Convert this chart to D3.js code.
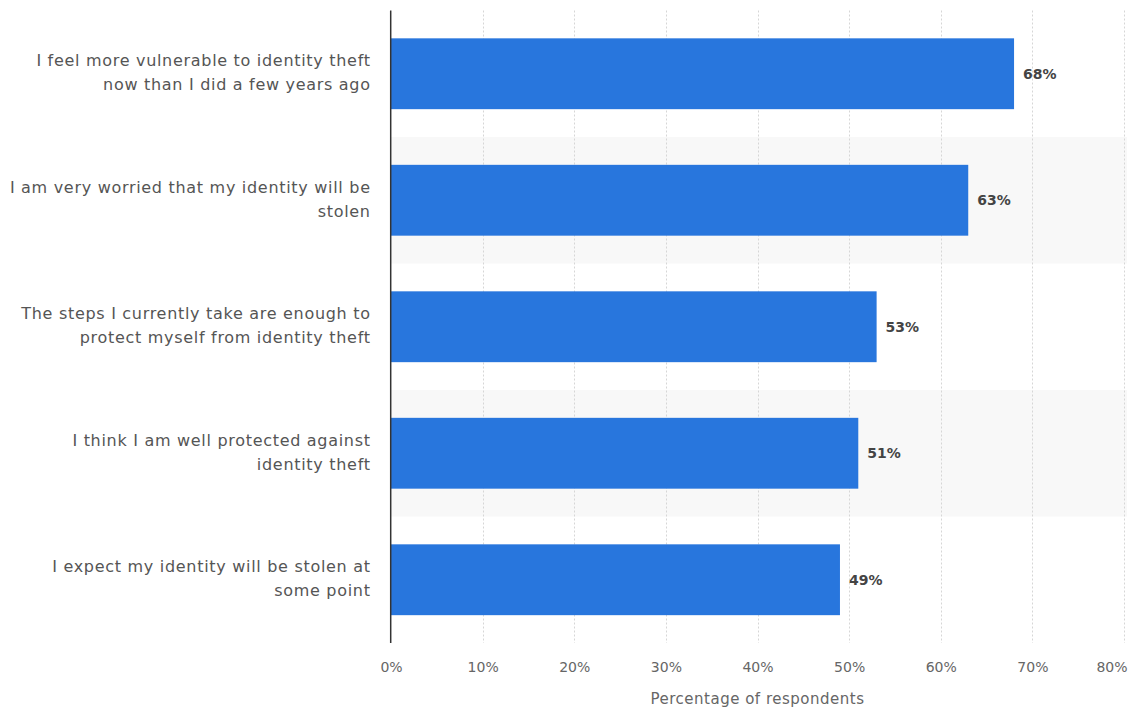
<!DOCTYPE html>
<html>
<head>
<meta charset="utf-8">
<script src="https://cdn.jsdelivr.net/npm/d3@7"></script>
<style>
  html, body { margin: 0; padding: 0; background: #fff; }
  svg { display: block; }
  text { font-family: "DejaVu Sans", sans-serif; }
</style>
</head>
<body>
<svg id="chart" width="1133" height="713"></svg>
<script>
// Survey statements (each entry is the wrapped lines of one label)
const categories = [
  ["I feel more vulnerable to identity theft", "now than I did a few years ago"],
  ["I am very worried that my identity will be", "stolen"],
  ["The steps I currently take are enough to", "protect myself from identity theft"],
  ["I think I am well protected against", "identity theft"],
  ["I expect my identity will be stolen at", "some point"]
];
const values = [68, 63, 53, 51, 49];
const tickValues = [0, 10, 20, 30, 40, 50, 60, 70, 80];
const axisTitle = "Percentage of respondents";

(function () {
  const svg = d3.select("#chart");
  const plotLeft = 391, plotRight = 1124, plotTop = 10.5, plotBottom = 643;

  const keys = categories.map((c, i) => i);
  const x = d3.scaleLinear().domain([0, 80]).range([plotLeft, plotRight]);
  const rows = d3.scaleBand().domain(keys).range([plotTop, plotBottom]).padding(0);
  const bars = d3.scaleBand().domain(keys).range([plotTop, plotBottom])
    .paddingInner(0.44).paddingOuter(0.22);

  // alternating row shading
  svg.append("g").selectAll("rect")
    .data(keys.filter(i => i % 2 === 1))
    .join("rect")
    .attr("x", plotLeft)
    .attr("y", i => rows(i))
    .attr("width", plotRight + 3 - plotLeft)
    .attr("height", rows.bandwidth())
    .attr("fill", "#f8f8f8");

  // dotted vertical gridlines
  svg.append("g").selectAll("line")
    .data(tickValues.filter(v => v > 0))
    .join("line")
    .attr("x1", d => Math.round(x(d)) + 0.5).attr("x2", d => Math.round(x(d)) + 0.5)
    .attr("y1", plotTop).attr("y2", plotBottom)
    .attr("stroke", "#d6d6d6")
    .attr("stroke-width", 1)
    .attr("stroke-dasharray", "2,2");

  // bars
  svg.append("g").selectAll("rect")
    .data(values)
    .join("rect")
    .attr("x", x(0))
    .attr("y", (d, i) => bars(i))
    .attr("width", d => x(d) - x(0))
    .attr("height", bars.bandwidth())
    .attr("fill", "#2876dd");

  // value labels
  svg.append("g").selectAll("text")
    .data(values)
    .join("text")
    .attr("x", d => x(d) + 9)
    .attr("y", (d, i) => rows(i) + rows.bandwidth() / 2)
    .attr("dy", "0.35em")
    .attr("font-size", 14)
    .attr("font-weight", "bold")
    .attr("fill", "#444")
    .text(d => d + "%");

  // category labels
  const cat = svg.append("g").selectAll("text")
    .data(categories)
    .join("text")
    .attr("text-anchor", "end")
    .attr("font-size", 16)
    .attr("letter-spacing", 0.7)
    .attr("fill", "#555");
  cat.each(function (lines, i) {
    const cy = rows(i) + rows.bandwidth() / 2 - 1;
    const lh = 24;
    const y0 = cy - (lines.length - 1) * lh / 2;
    d3.select(this).selectAll("tspan")
      .data(lines)
      .join("tspan")
      .attr("x", 370.7)
      .attr("y", (l, j) => y0 + j * lh)
      .attr("dy", "0.35em")
      .text(l => l);
  });

  // x axis tick labels
  const xAxis = d3.axisBottom(x)
    .tickValues(tickValues)
    .tickFormat(d => d + "%")
    .tickSize(0)
    .tickPadding(0);
  const gx = svg.append("g").attr("transform", `translate(0, ${plotBottom + 19})`).call(xAxis);
  gx.select(".domain").remove();
  gx.selectAll("text")
    .attr("font-family", "DejaVu Sans, sans-serif")
    .attr("font-size", 14)
    .attr("fill", "#666");
  // keep the last tick label inside the plot edge
  gx.selectAll(".tick").filter(d => d === tickValues[tickValues.length - 1])
    .select("text").attr("text-anchor", "end").attr("x", 3);

  // axis title
  svg.append("text")
    .attr("x", (plotLeft + plotRight) / 2)
    .attr("y", 699)
    .attr("dy", "0.35em")
    .attr("text-anchor", "middle")
    .attr("font-size", 15)
    .attr("letter-spacing", 0.5)
    .attr("fill", "#666")
    .text(axisTitle);

  // vertical baseline
  svg.append("line")
    .attr("x1", plotLeft - 0.3).attr("x2", plotLeft - 0.3)
    .attr("y1", plotTop).attr("y2", plotBottom)
    .attr("stroke", "#333")
    .attr("stroke-width", 1.5);
})();
</script>
</body>
</html>
